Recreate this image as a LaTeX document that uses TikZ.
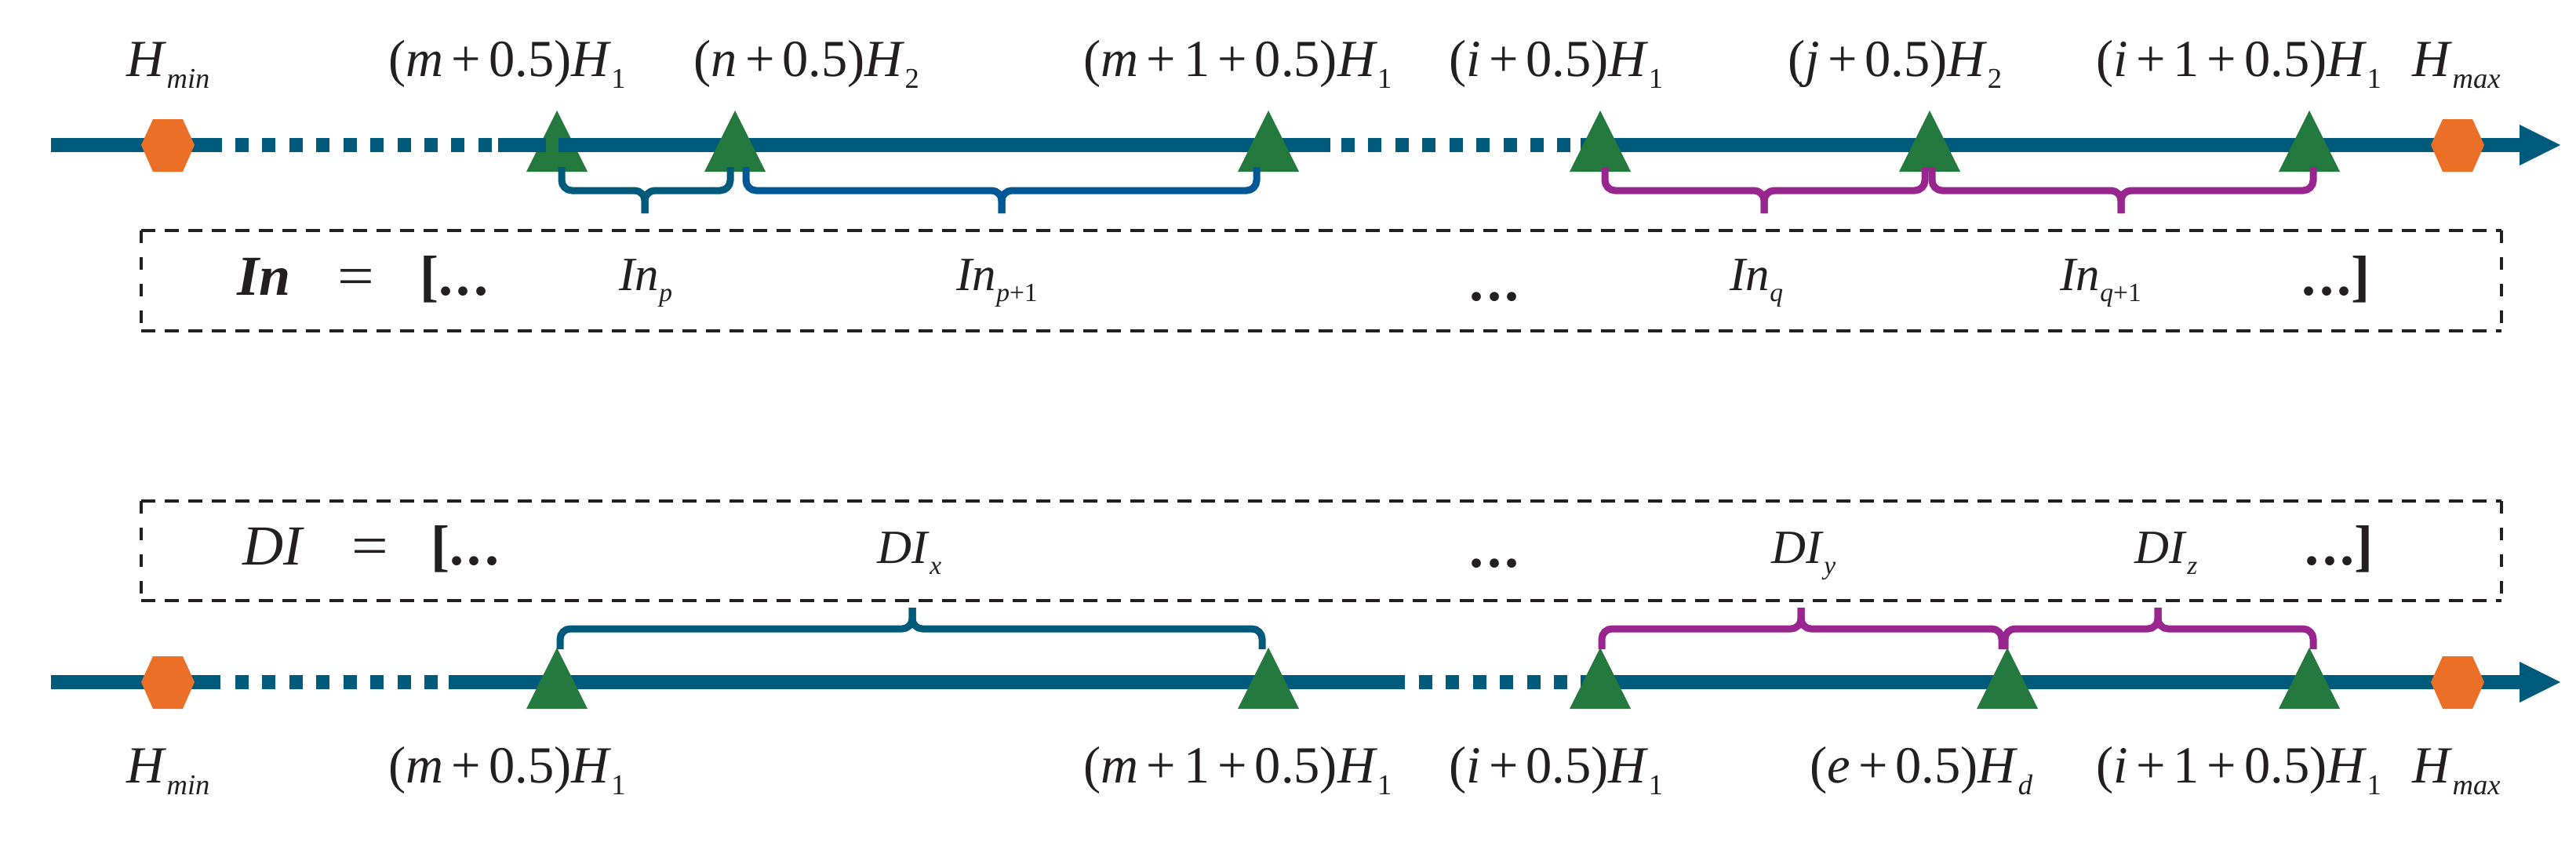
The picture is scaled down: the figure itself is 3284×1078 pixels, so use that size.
\documentclass[tikz,border=0pt]{standalone}
\usepackage{fontspec}
\setmainfont{Liberation Serif}
\usepackage{graphicx}
\usetikzlibrary{calc}
\definecolor{axisblue}{RGB}{0,90,124}
\definecolor{braceblue}{RGB}{0,89,150}
\definecolor{trigreen}{RGB}{36,122,62}
\definecolor{hexorange}{RGB}{235,111,39}
\definecolor{bracepurple}{RGB}{153,38,143}
\definecolor{ink}{RGB}{35,31,32}
\newcommand{\sbs}[1]{\raisebox{-0.23em}{\scalebox{0.55}{#1}}}
\newcommand{\pl}{\hspace{0.15em}+\hspace{0.15em}}
\newcommand{\dts}{\textbf{.\hspace{0.06em}.\hspace{0.06em}.}}
\newcommand{\eqs}{\scalebox{1.15}[1]{=}}
\newcommand{\drawtri}[2]{\fill[trigreen] (#1,#2) ++(0,-44) -- ++(39,78) -- ++(-78,0) -- cycle;}
\newcommand{\drawhex}[2]{\fill[hexorange] (#1,#2) ++(-34,0) -- ++(15,-33) -- ++(38,0) -- ++(15,33) -- ++(-15,34) -- ++(-38,0) -- cycle;}
\newcommand{\hbr}[7]{%
  \draw[bracestyle,#1] (#2,#5) -- (#2,#6) -- (#4,#6) -- (#4,#7);
  \draw[bracestyle,#1] (#3,#5) -- (#3,#6) -- (#4,#6) -- (#4,#7);}
\begin{document}
\begin{tikzpicture}[x=0.01cm,y=-0.01cm,
  lbl/.style={anchor=base west,inner sep=0pt,text=ink,font=\fontsize{18.9pt}{20pt}\selectfont},
  big/.style={anchor=base west,inner sep=0pt,text=ink,font=\fontsize{20.5pt}{22pt}\selectfont},
  elem/.style={anchor=base west,inner sep=0pt,text=ink,font=\fontsize{17.3pt}{19pt}\selectfont},
  axisline/.style={line width=0.18cm,draw=axisblue},
  axisdash/.style={axisline,dash pattern=on 0.17cm off 0.174cm},
  bracestyle/.style={line width=0.09cm,rounded corners=0.13cm},
  boxh/.style={line width=0.045cm,draw=ink,dash pattern=on 0.18cm off 0.12cm},
  boxv/.style={line width=0.045cm,draw=ink,dash pattern=on 0.16cm off 0.18cm}]
\useasboundingbox[fill=white] (0,0) rectangle (3284,1078);

% ---------------- top axis ----------------
\drawtri{710}{185}
\draw[axisline] (65,185) -- (283,185);
\draw[axisdash] (300,185) -- (627,185);
\draw[axisline] (635,185) -- (696,185);
\draw[axisline] (712,185) -- (1696,185);
\draw[axisdash] (1710,185) -- (2005,185);
\draw[axisline] (2015,185) -- (3213,185);
\fill[axisblue] (3212,159) -- (3264,185) -- (3212,211) -- cycle;
\drawtri{937}{185}
\drawtri{1617}{185}
\drawtri{2040}{185}
\drawtri{2460}{185}
\drawtri{2944}{185}
\drawhex{214}{185}
\drawhex{3133}{185}

% top braces
\hbr{draw=axisblue}{716}{931}{822}{213}{243}{272}
\hbr{draw=braceblue}{951}{1602}{1277}{213}{243}{272}
\hbr{draw=bracepurple}{2046}{2454}{2249}{213}{243}{272}
\hbr{draw=bracepurple}{2463}{2949}{2704}{213}{243}{272}

% top labels
\node[lbl] (t1) at (161,97) {\textit{H}\sbs{\textit{min}}};
\node[lbl] (t2) at (495,97) {(\textit{m}\pl 0.5)\textit{H}\sbs{1}};
\node[lbl] (t3) at (884,97) {(\textit{n}\pl 0.5)\textit{H}\sbs{2}};
\node[lbl] (t4) at (1381,97) {(\textit{m}\pl 1\pl 0.5)\textit{H}\sbs{1}};
\node[lbl] (t5) at (1847,97) {(\textit{i}\pl 0.5)\textit{H}\sbs{1}};
\node[lbl] (t6) at (2279,97) {(\textit{j}\pl 0.5)\textit{H}\sbs{2}};
\node[lbl] (t7) at (2672,97) {(\textit{i}\pl 1\pl 0.5)\textit{H}\sbs{1}};
\node[lbl] (t8) at (3075,97) {\textit{H}\sbs{\textit{max}}};

% top dashed box
\draw[boxh] (180,294) -- (3189,294);
\draw[boxh] (180,422) -- (3189,422);
\draw[boxv] (180,294) -- (180,422);
\draw[boxv] (3189,294) -- (3189,422);
\node[big] (inA) at (302,376) {\textbf{\textit{In}}};
\node[big] (inB) at (430,376) {\eqs};
\node[big] (inC) at (535,376) {\textbf{[}\dts};
\node[elem] (in1) at (789,370) {\textit{In}\sbs{\textit{p}}};
\node[elem] (in2) at (1219,370) {\textit{In}\sbs{\textit{p}+1}};
\node[big] (in3) at (1873,383) {\dts};
\node[elem] (in4) at (2205,370) {\textit{In}\sbs{\textit{q}}};
\node[elem] (in5) at (2626,370) {\textit{In}\sbs{\textit{q}+1}};
\node[big] (in6) at (2934,376) {\dts\textbf{]}};

% ---------------- bottom dashed box ----------------
\draw[boxh] (180,639) -- (3189,639);
\draw[boxh] (180,766) -- (3189,766);
\draw[boxv] (180,639) -- (180,766);
\draw[boxv] (3189,639) -- (3189,766);
\node[big] (diA) at (309,720) {\textit{DI}};
\node[big] (diB) at (448,720) {\eqs};
\node[big] (diC) at (549,720) {\textbf{[}\dts};
\node[elem] (di1) at (1118,718) {\textit{DI}\sbs{\textit{x}}};
\node[big] (di2) at (1873,723) {\dts};
\node[elem] (di3) at (2258,718) {\textit{DI}\sbs{\textit{y}}};
\node[elem] (di4) at (2721,718) {\textit{DI}\sbs{\textit{z}}};
\node[big] (di5) at (2938,720) {\dts\textbf{]}};

% ---------------- bottom axis ----------------
\draw[axisline] (65,870) -- (281,870);
\draw[axisdash] (300,870) -- (558,870);
\draw[axisline] (572,870) -- (1791,870);
\draw[axisdash] (1809,870) -- (2005,870);
\draw[axisline] (2015,870) -- (3213,870);
\fill[axisblue] (3212,844) -- (3264,870) -- (3212,896) -- cycle;
\drawtri{710}{870}
\drawtri{1617}{870}
\drawtri{2040}{870}
\drawtri{2559}{870}
\drawtri{2944}{870}
\drawhex{214}{870}
\drawhex{3133}{870}

% bottom braces
\hbr{draw=axisblue}{714}{1609}{1163}{828}{802}{775}
\hbr{draw=bracepurple}{2042}{2552}{2296}{828}{802}{775}
\hbr{draw=bracepurple}{2556}{2949}{2751}{828}{802}{775}

% bottom labels
\node[lbl] (b1) at (161,998) {\textit{H}\sbs{\textit{min}}};
\node[lbl] (b2) at (495,998) {(\textit{m}\pl 0.5)\textit{H}\sbs{1}};
\node[lbl] (b3) at (1381,998) {(\textit{m}\pl 1\pl 0.5)\textit{H}\sbs{1}};
\node[lbl] (b4) at (1847,998) {(\textit{i}\pl 0.5)\textit{H}\sbs{1}};
\node[lbl] (b5) at (2307,998) {(\textit{e}\pl 0.5)\textit{H}\sbs{\textit{d}}};
\node[lbl] (b6) at (2672,998) {(\textit{i}\pl 1\pl 0.5)\textit{H}\sbs{1}};
\node[lbl] (b7) at (3075,998) {\textit{H}\sbs{\textit{max}}};
\end{tikzpicture}
\end{document}
